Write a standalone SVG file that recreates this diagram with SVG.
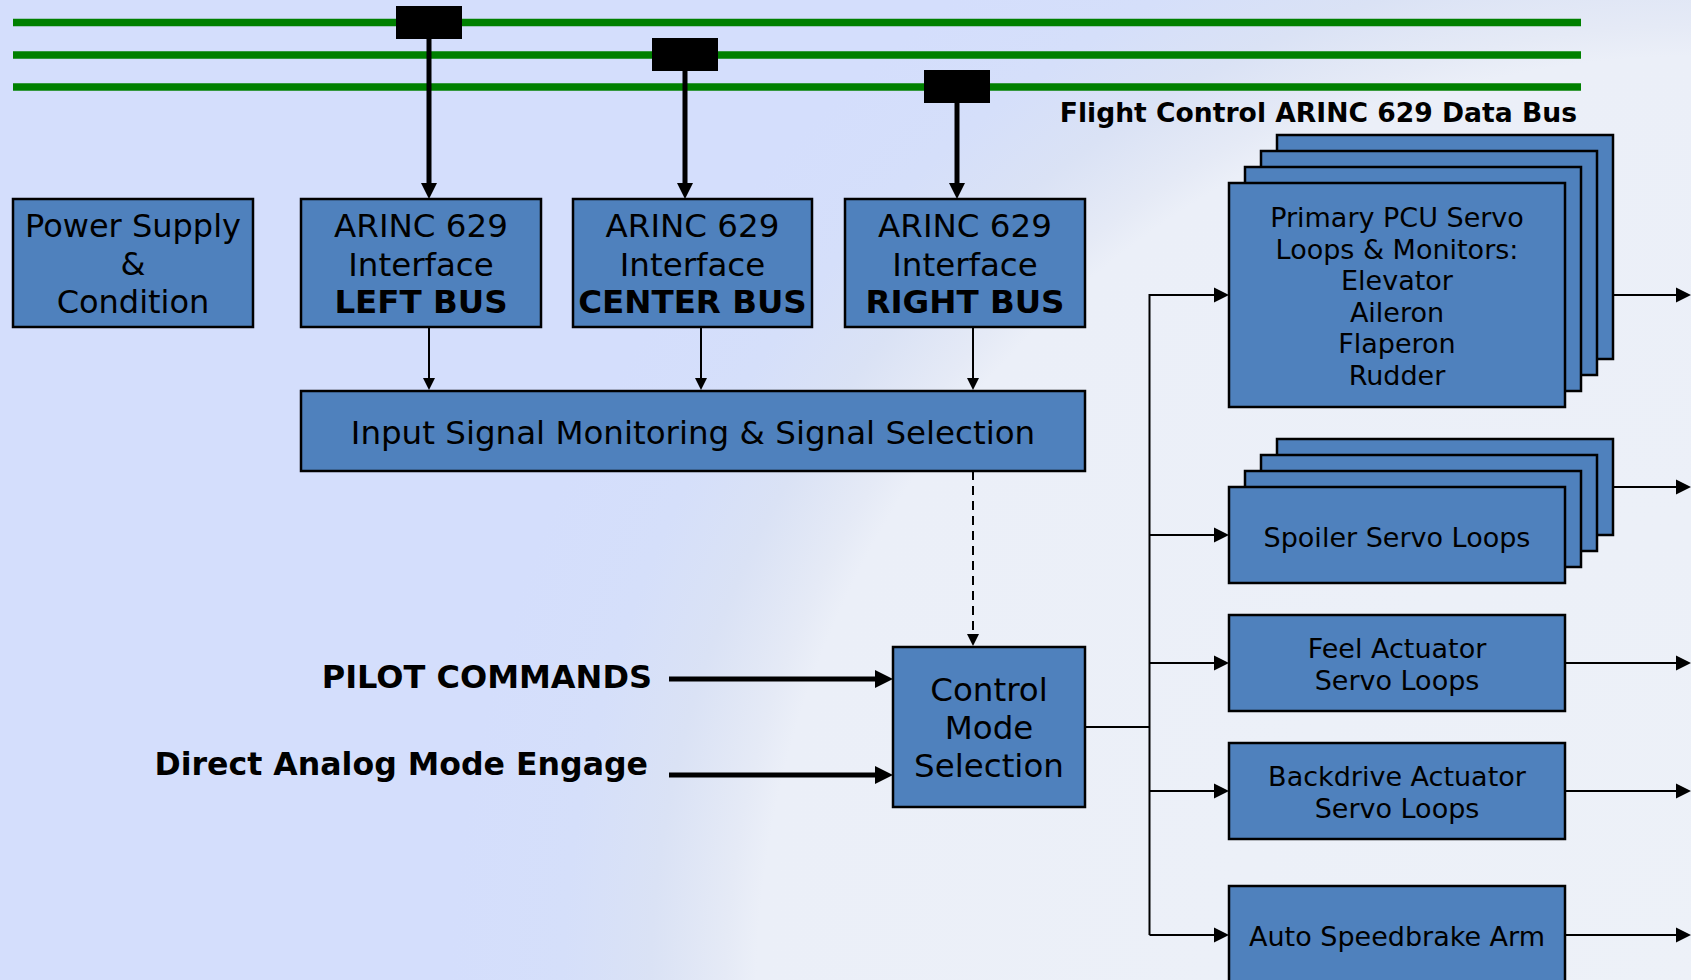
<svg xmlns="http://www.w3.org/2000/svg" width="1691" height="980" viewBox="0 0 1691 980">
<defs>
<radialGradient id="bg" gradientUnits="userSpaceOnUse" cx="1700" cy="1000" r="1250">
<stop offset="0" stop-color="#EDF1F8"/>
<stop offset="0.755" stop-color="#EBEFF8"/>
<stop offset="0.78" stop-color="#E5EAF6"/>
<stop offset="0.84" stop-color="#DAE2F5"/>
<stop offset="0.91" stop-color="#D5DFFA"/>
<stop offset="1" stop-color="#D4DEFC"/>
</radialGradient>
<marker id="ah" viewBox="0 0 10 10" refX="0" refY="5" markerWidth="15" markerHeight="16" markerUnits="userSpaceOnUse" orient="auto"><path d="M0,0 L10,5 L0,10 z" fill="#000"/></marker>
<marker id="ahs" viewBox="0 0 10 10" refX="0" refY="5" markerWidth="13" markerHeight="12" markerUnits="userSpaceOnUse" orient="auto"><path d="M0,0 L10,5 L0,10 z" fill="#000"/></marker>
<marker id="ahb" viewBox="0 0 10 10" refX="0" refY="5" markerWidth="16" markerHeight="17" markerUnits="userSpaceOnUse" orient="auto"><path d="M0,0 L10,5 L0,10 z" fill="#000"/></marker>
<marker id="ahp" viewBox="0 0 10 10" refX="0" refY="5" markerWidth="18" markerHeight="19" markerUnits="userSpaceOnUse" orient="auto"><path d="M0,0 L10,5 L0,10 z" fill="#000"/></marker>
</defs>
<style>
.box{fill:#4F81BD;stroke:#000;stroke-width:2.5}
.t{font-family:"DejaVu Sans","Verdana",sans-serif;fill:#000;text-anchor:middle}
.big{font-size:32.5px}
.sm{font-size:27px}
.b{font-weight:bold}
.lbl{font-family:"DejaVu Sans","Verdana",sans-serif;font-weight:bold;fill:#000;text-anchor:end}
.bus{stroke:#008000;stroke-width:7.5}
.tap{fill:#000}
.c{fill:none;stroke:#000;stroke-width:2}
.ck{fill:none;stroke:#000;stroke-width:5}
</style>
<rect x="0" y="0" width="1691" height="980" fill="url(#bg)"/>

<g id="databus">
<line class="bus" x1="13" y1="22.5" x2="1581" y2="22.5"/>
<line class="bus" x1="13" y1="55" x2="1581" y2="55"/>
<line class="bus" x1="13" y1="87" x2="1581" y2="87"/>
<rect class="tap" x="396" y="6" width="66" height="33"/>
<rect class="tap" x="652" y="38" width="66" height="33"/>
<rect class="tap" x="924" y="70" width="66" height="33"/>
<text class="lbl" x="1577" y="122" font-size="26.6">Flight Control ARINC 629 Data Bus</text>
</g>

<g id="connectors">
<path class="ck" d="M429,39 V183" marker-end="url(#ahb)"/>
<path class="ck" d="M685,71 V183" marker-end="url(#ahb)"/>
<path class="ck" d="M957,103 V183" marker-end="url(#ahb)"/>
<path class="c" d="M429,327 V378" marker-end="url(#ahs)"/>
<path class="c" d="M701,327 V378" marker-end="url(#ahs)"/>
<path class="c" d="M973,327 V378" marker-end="url(#ahs)"/>
<path class="c" d="M973,471 V634" stroke-dasharray="9,6" marker-end="url(#ahs)"/>
<path class="ck" d="M669,679 H875" marker-end="url(#ahp)"/>
<path class="ck" d="M669,775 H875" marker-end="url(#ahp)"/>
<path class="c" d="M1085,727 H1149.5"/>
<path class="c" d="M1149.5,294 V935"/>
<path class="c" d="M1149.5,295 H1214" marker-end="url(#ah)"/>
<path class="c" d="M1149.5,535 H1214" marker-end="url(#ah)"/>
<path class="c" d="M1149.5,663 H1214" marker-end="url(#ah)"/>
<path class="c" d="M1149.5,791 H1214" marker-end="url(#ah)"/>
<path class="c" d="M1149.5,935 H1214" marker-end="url(#ah)"/>
<path class="c" d="M1613,295 H1676" marker-end="url(#ah)"/>
<path class="c" d="M1613,487 H1676" marker-end="url(#ah)"/>
<path class="c" d="M1565,663 H1676" marker-end="url(#ah)"/>
<path class="c" d="M1565,791 H1676" marker-end="url(#ah)"/>
<path class="c" d="M1565,935 H1676" marker-end="url(#ah)"/>
</g>

<g id="power-supply">
<rect class="box" x="13" y="199" width="240" height="128"/>
<text class="t" font-size="32" x="133" y="237">Power Supply</text>
<text class="t" font-size="32" x="133" y="275">&amp;</text>
<text class="t" font-size="32" x="133" y="313">Condition</text>
</g>

<g id="arinc-left">
<rect class="box" x="301" y="199" width="240" height="128"/>
<text class="t big" x="421" y="237">ARINC 629</text>
<text class="t big" x="421" y="276">Interface</text>
<text class="t big b" x="421" y="313">LEFT BUS</text>
</g>

<g id="arinc-center">
<rect class="box" x="573" y="199" width="239" height="128"/>
<text class="t big" x="692.5" y="237">ARINC 629</text>
<text class="t big" x="692.5" y="276">Interface</text>
<text class="t big b" x="692.5" y="313">CENTER BUS</text>
</g>

<g id="arinc-right">
<rect class="box" x="845" y="199" width="240" height="128"/>
<text class="t big" x="965" y="237">ARINC 629</text>
<text class="t big" x="965" y="276">Interface</text>
<text class="t big b" x="965" y="313">RIGHT BUS</text>
</g>

<g id="input-signal">
<rect class="box" x="301" y="391" width="784" height="80"/>
<text class="t big" x="693" y="444">Input Signal Monitoring &amp; Signal Selection</text>
</g>

<g id="pilot-commands">
<text class="lbl" x="652" y="688" font-size="32">PILOT COMMANDS</text>
</g>

<g id="direct-analog">
<text class="lbl" x="648" y="775" font-size="31.6">Direct Analog Mode Engage</text>
</g>

<g id="control-mode">
<rect class="box" x="893" y="647" width="192" height="160"/>
<text class="t big" x="989" y="701">Control</text>
<text class="t big" x="989" y="739">Mode</text>
<text class="t big" x="989" y="777">Selection</text>
</g>

<g id="primary-pcu">
<rect class="box" x="1277" y="135" width="336" height="224"/>
<rect class="box" x="1261" y="151" width="336" height="224"/>
<rect class="box" x="1245" y="167" width="336" height="224"/>
<rect class="box" x="1229" y="183" width="336" height="224"/>
<text class="t sm" x="1397" y="227">Primary PCU Servo</text>
<text class="t sm" x="1397" y="258.5">Loops &amp; Monitors:</text>
<text class="t sm" x="1397" y="290">Elevator</text>
<text class="t sm" x="1397" y="321.5">Aileron</text>
<text class="t sm" x="1397" y="353">Flaperon</text>
<text class="t sm" x="1397" y="384.5">Rudder</text>
</g>

<g id="spoiler">
<rect class="box" x="1277" y="439" width="336" height="96"/>
<rect class="box" x="1261" y="455" width="336" height="96"/>
<rect class="box" x="1245" y="471" width="336" height="96"/>
<rect class="box" x="1229" y="487" width="336" height="96"/>
<text class="t sm" x="1397" y="547">Spoiler Servo Loops</text>
</g>

<g id="feel-actuator">
<rect class="box" x="1229" y="615" width="336" height="96"/>
<text class="t sm" x="1397" y="657.5">Feel Actuator</text>
<text class="t sm" x="1397" y="689.5">Servo Loops</text>
</g>

<g id="backdrive">
<rect class="box" x="1229" y="743" width="336" height="96"/>
<text class="t sm" x="1397" y="786">Backdrive Actuator</text>
<text class="t sm" x="1397" y="818">Servo Loops</text>
</g>

<g id="auto-speedbrake">
<rect class="box" x="1229" y="886" width="336" height="100"/>
<text class="t sm" x="1397" y="946">Auto Speedbrake Arm</text>
</g>
</svg>
